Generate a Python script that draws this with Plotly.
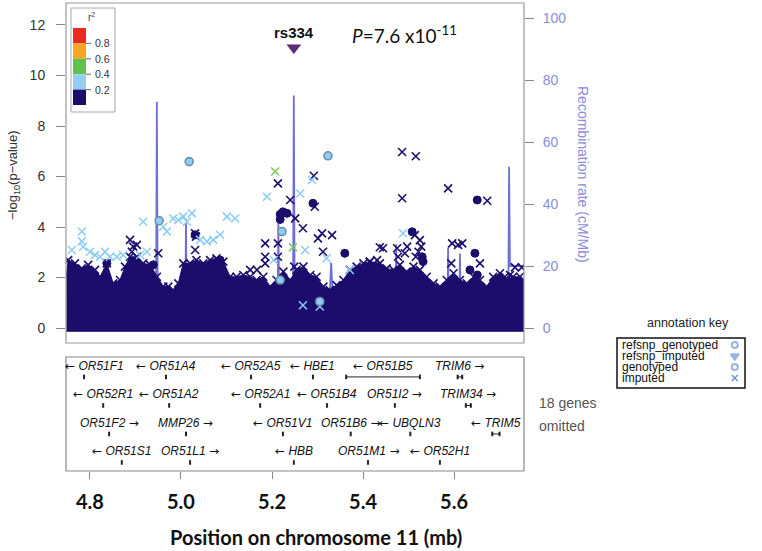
import plotly.graph_objects as go

# ---------------- data ----------------
# upper envelope of the dense cloud of low-r2 SNPs (position in Mb, -log10 p)
env_pos = [4.748, 4.752, 4.767, 4.782, 4.796, 4.811, 4.822, 4.837, 4.851, 4.866, 4.877, 4.888,
           4.903, 4.917, 4.932, 4.947, 4.961, 4.972, 4.983, 4.994, 5.005, 5.020, 5.034, 5.049,
           5.064, 5.078, 5.093, 5.108, 5.122, 5.137, 5.152, 5.166, 5.181, 5.196, 5.210, 5.225,
           5.240, 5.254, 5.269, 5.284, 5.298, 5.313, 5.327, 5.342, 5.357, 5.371, 5.386, 5.401,
           5.415, 5.437, 5.452, 5.467, 5.481, 5.496, 5.511, 5.525, 5.540, 5.555, 5.569, 5.584,
           5.599, 5.613, 5.628, 5.643, 5.657, 5.672, 5.686, 5.701, 5.716, 5.730, 5.745, 5.753]
env_top = [2.03, 2.69, 2.56, 2.36, 2.50, 2.30, 2.03, 2.56, 1.77, 1.90, 2.43, 2.82,
           2.82, 2.56, 2.50, 2.03, 1.64, 1.64, 1.50, 1.77, 2.56, 2.56, 2.69, 2.56,
           2.69, 2.76, 2.63, 2.03, 2.03, 2.10, 2.03, 1.90, 2.03, 1.64, 1.90, 2.23,
           1.90, 2.30, 2.43, 2.10, 2.03, 1.64, 1.50, 1.70, 1.90, 2.30, 2.43, 2.56,
           2.63, 2.56, 2.36, 2.30, 2.50, 2.23, 2.43, 2.30, 2.03, 1.77, 1.64, 1.90,
           2.17, 1.90, 1.77, 2.03, 1.90, 1.64, 2.03, 2.17, 1.90, 2.03, 2.03, 1.90]

# imputed SNPs, r2 < 0.2
navy_imp_pos = [4.888, 4.895, 4.903, 4.892, 4.822, 4.950, 5.031, 5.033, 5.031, 5.152, 5.167,
                5.185, 5.185, 5.185, 5.213, 5.213, 5.213, 5.240, 5.251, 5.249, 5.268, 5.294,
                5.301, 5.310, 5.332, 5.312, 5.415, 5.431, 5.437, 5.292, 5.486, 5.516, 5.486,
                5.587, 5.673, 5.514, 5.525, 5.528, 5.522, 5.516, 5.497, 5.492, 5.444, 5.475,
                5.477, 5.596, 5.609, 5.618, 5.594, 5.657, 5.712, 5.723, 5.734, 5.749]
navy_imp_logp = [3.49, 3.22, 3.29, 3.02, 2.03, 2.96, 3.75, 3.62, 3.09, 2.30, 2.30,
                 3.35, 2.82, 2.56, 5.73, 3.35, 2.82, 5.07, 4.34, 2.43, 3.95, 4.80,
                 3.55, 3.75, 3.68, 3.02, 2.63, 2.69, 3.20, 6.03, 6.97, 6.80, 5.14,
                 5.53, 5.04, 3.68, 3.48, 3.22, 3.02, 2.82, 3.22, 2.96, 3.16, 3.16,
                 2.82, 3.35, 3.29, 3.35, 2.56, 2.56, 2.03, 2.10, 2.40, 2.40]
# genotyped SNPs, r2 < 0.2
navy_gen_pos = [4.837, 4.939, 5.031, 5.086, 5.218, 5.218, 5.224, 5.233, 5.290, 5.360,
                5.651, 5.508, 5.530, 5.532, 5.646, 5.635, 5.651]
navy_gen_logp = [2.56, 2.50, 3.69, 2.69, 4.50, 4.30, 4.60, 4.54, 4.94, 2.96,
                 5.07, 3.81, 2.82, 2.63, 2.96, 2.30, 2.10]
# imputed SNPs, 0.2 <= r2 < 0.4
lb_imp_pos = [4.760, 4.782, 4.782, 4.785, 4.800, 4.811, 4.822, 4.833, 4.844, 4.859, 4.873,
              4.910, 4.925, 4.917, 4.961, 4.969, 4.983, 4.994, 5.005, 5.024, 5.013, 5.042,
              5.057, 5.071, 5.086, 5.101, 5.119, 5.189, 5.262, 5.288, 5.273, 5.268, 5.305,
              5.320, 5.371, 5.204, 5.488]
lb_imp_logp = [3.09, 3.82, 3.43, 3.22, 3.02, 2.89, 2.82, 3.02, 2.82, 2.82, 2.89,
               2.89, 3.02, 4.21, 4.01, 3.82, 4.34, 4.28, 4.41, 4.54, 4.21, 3.49,
               3.43, 3.49, 3.69, 4.41, 4.34, 5.20, 5.33, 5.86, 3.09, 0.90, 0.85,
               2.76, 2.30, 2.69, 3.75]
# genotyped SNPs, 0.2 <= r2 < 0.4
lb_gen_pos = [4.952, 5.222, 5.218, 5.305, 5.018, 5.323]
lb_gen_logp = [4.25, 3.82, 1.90, 1.05, 6.59, 6.82]
# imputed SNPs, 0.4 <= r2 < 0.6
green_imp_pos = [5.207, 5.246]
green_imp_logp = [6.20, 3.20]
# reference SNP
ref_name = "rs334"
ref_pos = [5.248]
ref_logp = [11.1]

# recombination rate (cM/Mb)
recomb_pos = [4.747, 4.945, 4.947, 4.949, 5.009, 5.011, 5.013, 5.212, 5.214, 5.216,
              5.246, 5.248, 5.250, 5.324, 5.330, 5.336, 5.471, 5.473, 5.475, 5.585,
              5.587, 5.589, 5.611, 5.613, 5.615, 5.719, 5.721, 5.723, 5.754]
recomb_rate = [2, 2, 73, 2, 2, 34, 2, 2, 35, 2,
               2, 75, 2, 2, 21, 2, 2, 27, 2, 2,
               26, 2, 2, 24, 2, 2, 52, 20, 20]

# genes
gene_names = ["OR51F1", "OR51A4", "OR52A5", "HBE1", "OR51B5", "TRIM6",
              "OR52R1", "OR51A2", "OR52A1", "OR51B4", "OR51I2", "TRIM34",
              "OR51F2", "MMP26", "OR51V1", "OR51B6", "UBQLN3", "TRIM5",
              "OR51S1", "OR51L1", "HBB", "OR51M1", "OR52H1"]
gene_start = [4.786, 4.966, 5.153, 5.289, 5.363, 5.608,
              4.828, 4.973, 5.173, 5.320, 5.469, 5.626,
              4.841, 5.010, 5.223, 5.372, 5.503, 5.684,
              4.869, 5.019, 5.247, 5.410, 5.568]
gene_end = [4.788, 4.968, 5.155, 5.291, 5.525, 5.618,
            4.830, 4.975, 5.175, 5.322, 5.471, 5.637,
            4.843, 5.012, 5.225, 5.374, 5.505, 5.700,
            4.871, 5.021, 5.249, 5.412, 5.570]
gene_row = [0, 0, 0, 0, 0, 0, 1, 1, 1, 1, 1, 1, 2, 2, 2, 2, 2, 2, 3, 3, 3, 3, 3]
gene_strand = [-1, -1, -1, -1, -1, 1, -1, -1, -1, -1, 1, 1,
               1, 1, -1, 1, -1, -1, -1, 1, -1, 1, -1]
omitted_text = ["18 genes", "omitted"]

x_tick_vals = [4.8, 5.0, 5.2, 5.4, 5.6]
x_tick_text = ["4.8", "5.0", "5.2", "5.4", "5.6"]
logp_ticks = [0, 2, 4, 6, 8, 10, 12]
recomb_ticks = [0, 20, 40, 60, 80, 100]
r2_labels = ["0.8", "0.6", "0.4", "0.2"]
key_labels = ["refsnp_genotyped", "refsnp_imputed", "genotyped", "imputed"]

# ---------------- styling ----------------
W, H = 762, 551
def px(x):
    return x / W
def py(y):
    return 1 - y / H

NAVY = "#1c0d6c"
LBLUE = "#8ccdf5"
GREEN = "#74c757"
REF = "#5a2d70"
RECOMB = "#7070d4"
XMIN, XMAX = 4.7473, 5.7538
ARIAL = "Liberation Sans"
BOLDF = "Lato"

fig = go.Figure()

# recombination rate (base axis y, drawn underneath)
fig.add_trace(go.Scatter(x=recomb_pos, y=recomb_rate, xaxis="x", yaxis="y", mode="lines",
                         line=dict(color=RECOMB, width=1.8), hoverinfo="skip", showlegend=False))

# dense cloud
BASE = -0.13
fig.add_trace(go.Scatter(x=env_pos + env_pos[::-1], y=env_top + [BASE] * len(env_pos),
                         xaxis="x", yaxis="y2", mode="lines", fill="toself",
                         fillcolor=NAVY, line=dict(color=NAVY, width=1),
                         hoverinfo="skip", showlegend=False))


def pts(xs, ys, symbol, color, size=8, lw=1.6, lc=None):
    m = dict(symbol=symbol, size=size, color=color, line=dict(color=lc or color, width=lw))
    fig.add_trace(go.Scatter(x=xs, y=ys, xaxis="x", yaxis="y2", mode="markers", marker=m,
                             hoverinfo="skip", showlegend=False))

# cloud-edge markers
pts(env_pos, env_top, "x-thin-open", NAVY)
pts(navy_imp_pos, navy_imp_logp, "x-thin-open", NAVY)
pts(navy_gen_pos, navy_gen_logp, "circle", NAVY, size=8, lw=1)
pts(lb_imp_pos, lb_imp_logp, "x-thin-open", LBLUE, lw=1.5)
pts(lb_gen_pos, lb_gen_logp, "circle", LBLUE, size=8, lw=1.6, lc="#6f8ea6")
pts(green_imp_pos, green_imp_logp, "x-thin-open", GREEN, lw=1.5)
pts(ref_pos, ref_logp, "triangle-down", REF, size=12, lw=0.5)

annotations = []
def ann(**kw):
    kw.setdefault("showarrow", False)
    kw.setdefault("xanchor", "center")
    kw.setdefault("yanchor", "middle")
    annotations.append(kw)

ann(x=ref_pos[0], y=ref_logp[0], xref="x", yref="y2", text="<b>%s</b>" % ref_name,
    yshift=15, font=dict(family=ARIAL, size=15, color="#111"))
ann(x=ref_pos[0] + 0.123, y=ref_logp[0], xref="x", yref="y2",
    text="<i>P</i>=7.6 x10<sup>-11</sup>", yshift=13, xanchor="left",
    font=dict(family=BOLDF, size=19, color="#111"))

# ---------------- gene track ----------------
gx, gy = [], []
bx, by = [], []
for s, e, r in zip(gene_start, gene_end, gene_row):
    yy = -0.70 - r
    if e - s > 0.005:
        gx += [s, e, None]
        gy += [yy, yy, None]
        for p in (s, e):
            bx += [p, p, None]
            by += [yy - 0.08, yy + 0.08, None]
    else:
        m = (s + e) / 2
        bx += [m, m, None]
        by += [yy - 0.08, yy + 0.08, None]
fig.add_trace(go.Scatter(x=gx, y=gy, xaxis="x2", yaxis="y3", mode="lines",
                         line=dict(color="#222", width=1), hoverinfo="skip", showlegend=False))
fig.add_trace(go.Scatter(x=bx, y=by, xaxis="x2", yaxis="y3", mode="lines",
                         line=dict(color="#222", width=2), hoverinfo="skip", showlegend=False))

LARR = "<span style=\"font-family:'DejaVu Sans'\">\u2190</span>"
RARR = "<span style=\"font-family:'DejaVu Sans'\">\u2192</span>"
for n, s, e, r, st in zip(gene_names, gene_start, gene_end, gene_row, gene_strand):
    txt = "%s <i>%s</i>" % (LARR, n) if st < 0 else "<i>%s</i> %s" % (n, RARR)
    hw = (len(n) + 2.5) * 6.3 / 2 / 455
    c = (s + e) / 2
    c = max(XMIN + hw + 0.004, min(XMAX - hw - 0.002, c))
    ann(x=c, y=-0.70 - r + 0.40, xref="x2", yref="y3", text=txt,
        font=dict(family=ARIAL, size=12, color="#111"))

for i, t in enumerate(omitted_text):
    ann(x=px(537), y=py(403 + 23 * i), xref="paper", yref="paper", text=t, xanchor="left",
        font=dict(family=ARIAL, size=14, color="#555"))

# axis titles
ann(x=px(13), y=py(175), xref="paper", yref="paper",
    text="\u2212log<sub>10</sub>(p\u2212value)", textangle=-90,
    font=dict(family=ARIAL, size=13, color="#333"))
ann(x=px(583), y=py(174), xref="paper", yref="paper",
    text="Recombination rate (cM/Mb)", textangle=90,
    font=dict(family=ARIAL, size=14, color="#8c8cd8"))
ann(x=px(316), y=py(537), xref="paper", yref="paper",
    text="<b>Position on chromosome 11 (mb)</b>",
    font=dict(family=BOLDF, size=20, color="#111"))

# ---------------- r2 legend ----------------
shapes = []
seg_cols = ["#ec2a22", "#f6a623", "#62c04c", "#93cdf2", NAVY]
top, seg = 28, 15.4
for i, c in enumerate(seg_cols):
    shapes.append(dict(type="rect", xref="paper", yref="paper", x0=px(73), x1=px(86),
                       y0=py(top + seg * (i + 1)), y1=py(top + seg * i),
                       fillcolor=c, line=dict(width=0)))
for i, lab in enumerate(r2_labels):
    yy = top + seg * (i + 1)
    shapes.append(dict(type="line", xref="paper", yref="paper", x0=px(86), x1=px(91),
                       y0=py(yy), y1=py(yy), line=dict(color="#666", width=1)))
    ann(x=px(93), y=py(yy), xref="paper", yref="paper", text=lab, xanchor="left",
        font=dict(family=ARIAL, size=10.5, color="#333"))
ann(x=px(91), y=py(17), xref="paper", yref="paper", text="r<sup>2</sup>",
    font=dict(family=ARIAL, size=10, color="#444"))
shapes.append(dict(type="rect", xref="paper", yref="paper", x0=px(71), x1=px(115),
                   y0=py(112), y1=py(8), line=dict(color="#aaa", width=1)))

# main and gene boxes
shapes.append(dict(type="rect", xref="paper", yref="paper", x0=px(66), x1=px(524),
                   y0=py(343), y1=py(3), line=dict(color="#999", width=1.2)))
shapes.append(dict(type="rect", xref="paper", yref="paper", x0=px(66), x1=px(524),
                   y0=py(471), y1=py(357), line=dict(color="#888", width=1.2)))

# ---------------- annotation key ----------------
ann(x=px(688), y=py(323), xref="paper", yref="paper", text="annotation key",
    font=dict(family=ARIAL, size=12.5, color="#222"))
shapes.append(dict(type="rect", xref="paper", yref="paper", x0=px(617), x1=px(745),
                   y0=py(388), y1=py(338), line=dict(color="#111", width=1.5)))
key_rows = [7, 18, 29, 40]
for lab, yy in zip(key_labels, key_rows):
    ann(x=0.02, y=yy, xref="x3", yref="y4", text=lab, xanchor="left",
        font=dict(family=ARIAL, size=12, color="#111"))
KEYC = "#6f93da"
fig.add_trace(go.Scatter(x=[0.92, 0.92, 0.92], y=key_rows[:3], xaxis="x3", yaxis="y4",
                         mode="markers",
                         marker=dict(symbol=["circle-open", "triangle-down", "circle-open"],
                                     size=[6, 7, 6], color=KEYC,
                                     line=dict(color=KEYC, width=2)),
                         hoverinfo="skip", showlegend=False))
fig.add_trace(go.Scatter(x=[0.92], y=key_rows[3:], xaxis="x3", yaxis="y4", mode="markers",
                         marker=dict(symbol="x-thin-open", size=6, color=KEYC,
                                     line=dict(color=KEYC, width=1.5)),
                         hoverinfo="skip", showlegend=False))

fig.update_layout(
    width=W, height=H, margin=dict(l=0, r=0, t=0, b=0),
    paper_bgcolor="white", plot_bgcolor="rgba(0,0,0,0)", showlegend=False,
    xaxis=dict(domain=[px(66), px(524)], range=[XMIN, XMAX], anchor="y",
               showticklabels=False, showgrid=False, zeroline=False, ticks="", showline=False),
    yaxis=dict(domain=[py(343), py(3)], range=[-4.84, 104.84], side="right", anchor="x",
               tickvals=recomb_ticks, ticks="outside", ticklen=9, tickcolor="#888", tickwidth=1,
               tickfont=dict(family=ARIAL, size=14, color="#8c8cd8"), ticklabelstandoff=6,
               showgrid=False, zeroline=False, showline=False),
    yaxis2=dict(overlaying="y", side="left", range=[-0.594, 12.871], anchor="x",
                tickvals=logp_ticks, ticks="outside", ticklen=9, tickcolor="#888", tickwidth=1,
                tickfont=dict(family=ARIAL, size=14, color="#333"), ticklabelstandoff=8,
                showgrid=False, zeroline=False, showline=False),
    xaxis2=dict(domain=[px(66), px(524)], range=[XMIN, XMAX], anchor="y3",
                tickvals=x_tick_vals, ticktext=x_tick_text, ticks="outside", ticklen=7,
                tickcolor="#888", tickwidth=1,
                tickfont=dict(family=BOLDF, size=20, color="#111", weight="bold"),
                ticklabelstandoff=6, showgrid=False, zeroline=False, showline=False),
    yaxis3=dict(domain=[py(471), py(357)], range=[-4, 0], anchor="x2", visible=False),
    xaxis3=dict(domain=[px(617), px(745)], range=[0, 1], anchor="y4", visible=False),
    yaxis4=dict(domain=[py(388), py(338)], range=[50, 0], anchor="x3", visible=False),
    shapes=shapes, annotations=annotations,
)

fig.write_html("out.html", config={"displayModeBar": False},
               post_script="document.body.style.margin='0';")
